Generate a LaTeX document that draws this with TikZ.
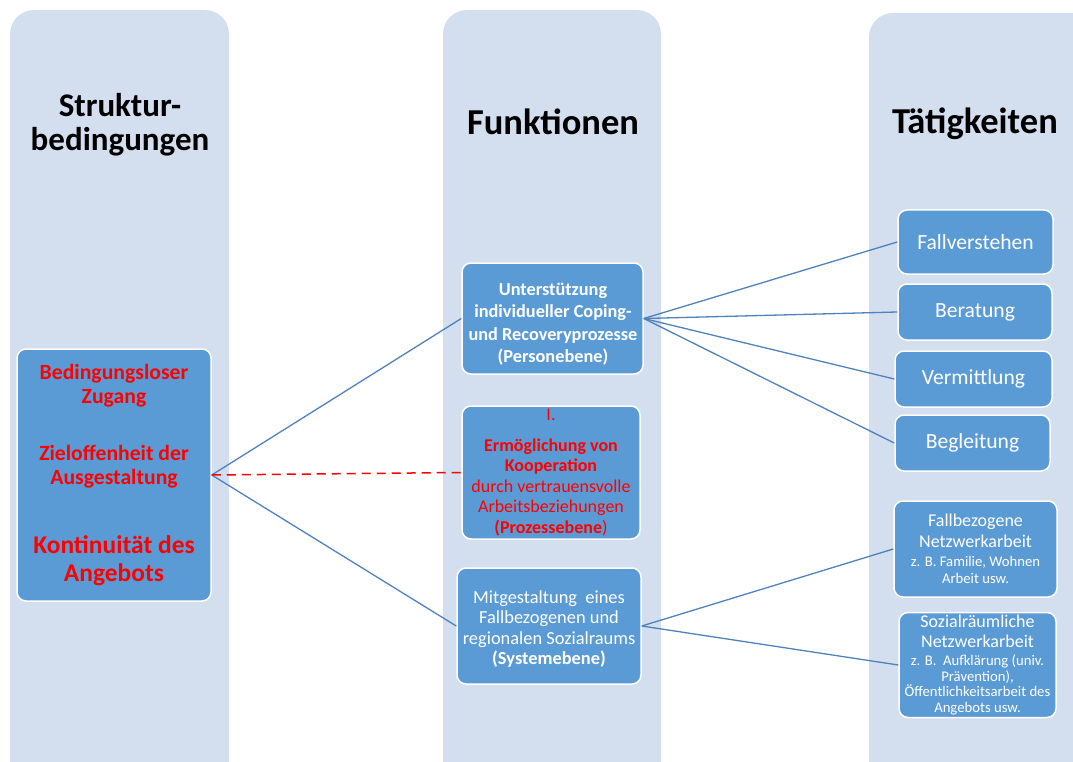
\documentclass[tikz,border=0pt]{standalone}
\usepackage{fontspec}
\setmainfont{Carlito}
\definecolor{colfill}{HTML}{D3DEEF}
\definecolor{boxblue}{HTML}{5B9BD5}
\definecolor{lineblue}{HTML}{4F81BD}
\definecolor{txtred}{HTML}{FF0000}
\newcommand{\fs}[2]{\fontsize{#1}{#2}\selectfont}
\begin{document}
\begin{tikzpicture}[x=1pt,y=-1pt,
  box/.style={draw=white, line width=1.5pt, fill=boxblue, rounded corners=9pt,
    align=center, inner sep=0pt, text=white},
  wtxt/.style={align=center, inner sep=0pt, text=white},
  conn/.style={draw=lineblue, line width=1.3pt},
  dconn/.style={draw=txtred, line width=1.5pt, dash pattern=on 9pt off 6pt},
  head/.style={align=center, text=black, font=\fs{36.5}{34}\bfseries},
  redtxt/.style={align=center, text=txtred, font=\fs{21.7}{24}\bfseries}]
\useasboundingbox (0,0) rectangle (1073,762);
\clip (0,0) rectangle (1073,762);
% columns
\fill[colfill, rounded corners=24pt] (10,800) -- (10,10) -- (229,10) -- (229,800) -- cycle;
\fill[colfill, rounded corners=24pt] (443,800) -- (443,10) -- (661,10) -- (661,800) -- cycle;
\fill[colfill, rounded corners=24pt] (869,800) -- (869,13) -- (1100,13) -- (1100,800) -- cycle;
% headers
\node[head, font=\fs{33}{34}\bfseries] (h1) at (120,124.5) {Struktur-\\bedingungen};
\node[head] (h2) at (553,122) {Funktionen};
\node[head] (h3) at (975,124) {Tätigkeiten};
% left box
\node[box, minimum width=194pt, minimum height=252pt] (L) at (114,475) {};
\node[redtxt] (l1) at (114,386) {Bedingungsloser\\Zugang};
\node[redtxt] (l2) at (114,467) {Zieloffenheit der\\Ausgestaltung};
\node[redtxt, font=\fs{25.5}{28}\bfseries] (l3) at (114,561) {Kontinuität des\\Angebots};
% middle boxes
\node[box, minimum width=181pt, minimum height=111pt] (M1) at (552.5,318.5) {};
\node[wtxt, font=\fs{18.3}{22.5}\bfseries] (t1) at (553,324)
  {Unterstützung\\individueller Coping-\\und Recoveryprozesse\\(Personebene)};
\node[box, minimum width=178pt, minimum height=133pt, text=txtred, font=\fs{18}{20.5}] (M2) at (551,472.5)
  {I.\\[10pt]\textbf{Ermöglichung von}\\\textbf{Kooperation}\\durch vertrauensvolle\\Arbeitsbeziehungen\\\textbf{(Prozessebene})};
\node[box, minimum width=184pt, minimum height=116pt] (M3) at (549,626) {};
\node[wtxt, font=\fs{18.4}{20.5}] (t3) at (549,629)
  {Mitgestaltung\ \ eines\\Fallbezogenen und\\regionalen Sozialraums\\\textbf{(Systemebene)}};
% right boxes
\node[box, minimum width=155pt, minimum height=64pt, font=\fs{21.6}{26}] (R1) at (975.5,242) {Fallverstehen};
\node[box, minimum width=154pt, minimum height=56pt, font=\fs{21.6}{26}] (R2) at (975,312) {Beratung};
\node[box, minimum width=157pt, minimum height=56pt, font=\fs{21.6}{26}] (R3) at (973.5,379) {Vermittlung};
\node[box, minimum width=155pt, minimum height=56pt, font=\fs{21.6}{26}] (R4) at (972.5,443) {Begleitung};
\node[box, minimum width=163pt, minimum height=96pt, font=\fs{18}{21}] (R5) at (975.5,549)
  {Fallbezogene\\Netzwerkarbeit\\[-2pt]{\fs{14.7}{16}z. B. Familie, Wohnen}\\[-4pt]{\fs{14.7}{16}Arbeit usw.}};
\node[box, minimum width=157pt, minimum height=105pt, font=\fs{18}{20}] (R6) at (977.5,665)
  {Sozialräumliche\\Netzwerkarbeit\\[-2pt]{\fs{14.7}{16}z. B.\ \ Aufklärung (univ.}\\[-4.5pt]{\fs{14.7}{16}Prävention),}\\[-4.5pt]{\fs{14.7}{16}Öffentlichkeitsarbeit des}\\[-4.5pt]{\fs{14.7}{16}Angebots usw.}};
% connectors
\draw[conn] (L.east) -- (M1.west);
\draw[conn] (L.east) -- (M3.west);
\draw[dconn] (L.east) -- (M2.west);
\draw[conn] (M1.east) -- (R1.west);
\draw[conn] (M1.east) -- (R2.west);
\draw[conn] (M1.east) -- (R3.west);
\draw[conn] (M1.east) -- (R4.west);
\draw[conn] (M3.east) -- (R5.west);
\draw[conn] (M3.east) -- (R6.west);
\end{tikzpicture}
\end{document}
